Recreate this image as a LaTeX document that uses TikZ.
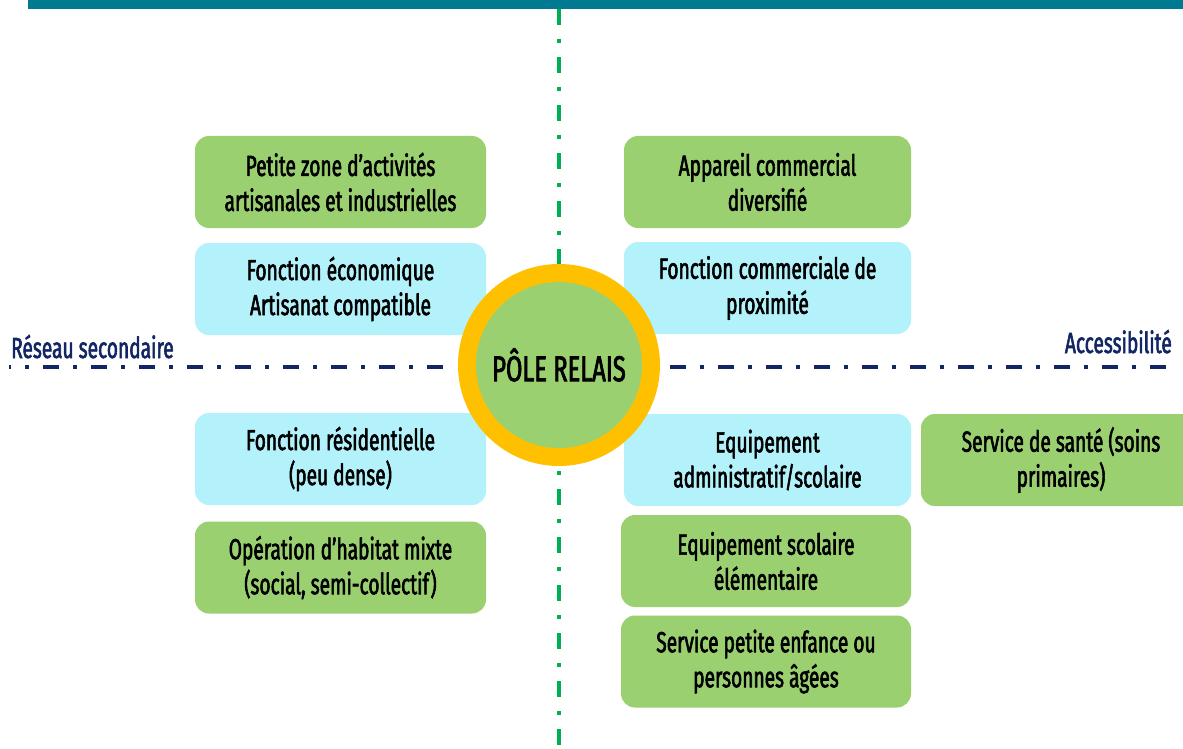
\documentclass[tikz,border=0pt]{standalone}
\usepackage{fontspec}
\setmainfont{Fira Sans}[FakeStretch=0.66, FakeBold=2]
\definecolor{boxgreen}{RGB}{155,208,113}
\definecolor{boxcyan}{RGB}{180,242,251}
\definecolor{ringyellow}{RGB}{255,192,0}
\definecolor{barteal}{RGB}{0,122,145}
\definecolor{navy}{RGB}{18,38,100}
\definecolor{vgreen}{RGB}{0,176,80}
\tikzset{
  card/.style={rounded corners=14pt, minimum width=291pt, minimum height=92pt,
    align=center, inner sep=0pt, font=\fontsize{29}{35}\selectfont, text=black},
  greencard/.style={card, fill=boxgreen},
  cyancard/.style={card, fill=boxcyan},
  axisline/.style={line width=4.5pt, dash pattern=on 16pt off 14pt on 4pt off 14pt},
  axislabel/.style={text=navy, font=\fontsize{29}{30}\selectfont, inner sep=0pt},
}
\begin{document}
\begin{tikzpicture}[x=1pt,y=-1pt]
\useasboundingbox (0,0) rectangle (1183,749);
\fill[white] (0,0) rectangle (1183,749);
\fill[barteal] (28,0) rectangle (1183,9);
% vertical axis
\coordinate (vtop) at (559,9);
\coordinate (vbot) at (559,749);
\draw[vgreen, axisline] (vtop) -- (vbot);
% horizontal axis
\coordinate (hl1) at (9,367);
\coordinate (hl2) at (444,367);
\coordinate (hr1) at (670,367);
\coordinate (hr2) at (1172,367);
\draw[navy, axisline, dash phase=14pt] (hl1) -- (hl2);
\draw[navy, axisline] (hr1) -- (hr2);
\node[axislabel, anchor=base west] (reseau) at (11,358) {Réseau secondaire};
\node[axislabel, anchor=base east] (access) at (1172,353) {Accessibilité};
% boxes
\node[greencard] (b1) at (340.5,182) {Petite zone d’activités\\artisanales et industrielles};
\node[cyancard] (b2) at (340.5,289) {Fonction économique\\Artisanat compatible};
\node[greencard, minimum width=287pt] (b3) at (767.5,182) {Appareil commercial\\diversifié};
\node[cyancard, minimum width=287pt] (b4) at (767.5,288) {Fonction commerciale de\\proximité};
\node[cyancard] (b5) at (340.5,459) {Fonction résidentielle\\(peu dense)};
\node[greencard] (b6) at (340.5,567.5) {Opération d’habitat mixte\\(social, semi-collectif)};
\node[cyancard, minimum width=287pt] (b7) at (767.5,460) {Equipement\\administratif/scolaire};
\node[greencard, minimum width=290pt] (b8) at (766,561) {Equipement scolaire\\élémentaire};
\node[greencard, minimum width=290pt] (b9) at (766,661.5) {Service petite enfance ou\\personnes âgées};
\node[greencard, minimum width=280pt] (b10) at (1061,460) {Service de santé (soins\\primaires)};
% central circle
\node[circle, fill=ringyellow, minimum size=202pt, inner sep=0pt] (ring) at (559,365) {};
\node[circle, fill=boxgreen, minimum size=166pt, inner sep=0pt,
  font=\fontsize{36}{40}\selectfont] (pole) at (559,365) {PÔLE RELAIS};
\end{tikzpicture}
\end{document}
